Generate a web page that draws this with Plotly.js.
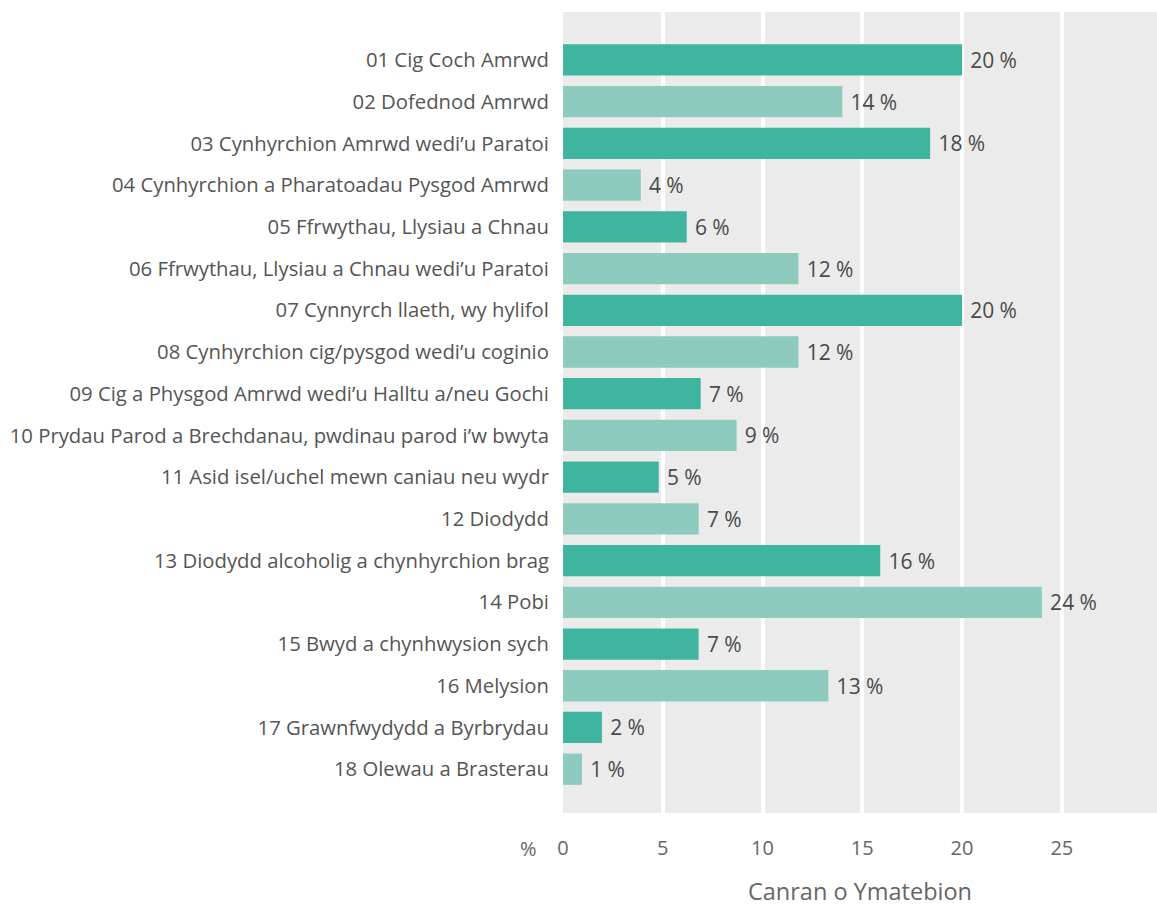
<!DOCTYPE html>
<html><head><meta charset="utf-8">
<script src="https://cdn.plot.ly/plotly-3.0.1.min.js"></script>
<style>html,body{margin:0;padding:0;background:#fff}#chart{width:1157px;height:907px}</style>
</head><body><div id="chart"></div>
<script>
const categories = [
  "01 Cig Coch Amrwd",
  "02 Dofednod Amrwd",
  "03 Cynhyrchion Amrwd wedi\u2019u Paratoi",
  "04 Cynhyrchion a Pharatoadau Pysgod Amrwd",
  "05 Ffrwythau, Llysiau a Chnau",
  "06 Ffrwythau, Llysiau a Chnau wedi\u2019u Paratoi",
  "07 Cynnyrch llaeth, wy hylifol",
  "08 Cynhyrchion cig/pysgod wedi\u2019u coginio",
  "09 Cig a Physgod Amrwd wedi\u2019u Halltu a/neu Gochi",
  "10 Prydau Parod a Brechdanau, pwdinau parod i\u2019w bwyta",
  "11 Asid isel/uchel mewn caniau neu wydr",
  "12 Diodydd",
  "13 Diodydd alcoholig a chynhyrchion brag",
  "14 Pobi",
  "15 Bwyd a chynhwysion sych",
  "16 Melysion",
  "17 Grawnfwydydd a Byrbrydau",
  "18 Olewau a Brasterau"
];
const values = [20, 14, 18.4, 3.9, 6.2, 11.8, 20, 11.8, 6.9, 8.7, 4.8, 6.8, 15.9, 24, 6.8, 13.3, 1.95, 0.95];
const labels = ["20","14","18","4","6","12","20","12","7","9","5","7","16","24","7","13","2","1"];
const tickVals = [0, 5, 10, 15, 20, 25];
const darkColor = "#3fb5a0", lightColor = "#8ccbbd";
const colors = categories.map((c, i) => i % 2 === 0 ? darkColor : lightColor);

const trace = {
  type: "bar", orientation: "h",
  y: categories, x: values,
  marker: {color: colors},
  width: 0.75,
  text: labels.map(l => "\u2005" + l + "\u2005%"),
  textposition: "outside",
  cliponaxis: false,
  textfont: {family: "Open Sans, Noto Sans, sans-serif", size: 21, color: "#4a4a4a"},
  hoverinfo: "none"
};
const layout = {
  width: 1157, height: 907,
  margin: {l: 563, r: 0, t: 12, b: 94},
  paper_bgcolor: "#ffffff",
  plot_bgcolor: "#ebebeb",
  showlegend: false,
  font: {family: "Open Sans, Noto Sans, sans-serif", color: "#555"},
  bargap: 0.25,
  xaxis: {
    range: [0, 29.77],
    tickvals: tickVals,
    ticktext: tickVals.map(String),
    showgrid: true, gridcolor: "#ffffff", gridwidth: 4,
    zeroline: false, showline: false,
    ticks: "outside", ticklen: 17, tickcolor: "rgba(0,0,0,0)",
    tickfont: {size: 20, color: "#666"},
    title: {text: "Canran o Ymatebion", font: {size: 23.5, color: "#666"}, standoff: 25},
    fixedrange: true
  },
  yaxis: {
    type: "category",
    categoryorder: "array", categoryarray: categories,
    range: [18.05, -1.15],
    showgrid: false, zeroline: false, showline: false,
    ticks: "outside", ticklen: 9, tickcolor: "rgba(0,0,0,0)",
    tickfont: {size: 20.3, color: "#555"},
    fixedrange: true
  },
  annotations: [{
    text: "%", xref: "paper", yref: "paper", x: 0, y: 0,
    xanchor: "right", yanchor: "top", xshift: -24, yshift: -20,
    showarrow: false, font: {size: 20, color: "#666"}
  }]
};
Plotly.newPlot("chart", [trace], layout, {displayModeBar: false, staticPlot: true});
</script></body></html>
